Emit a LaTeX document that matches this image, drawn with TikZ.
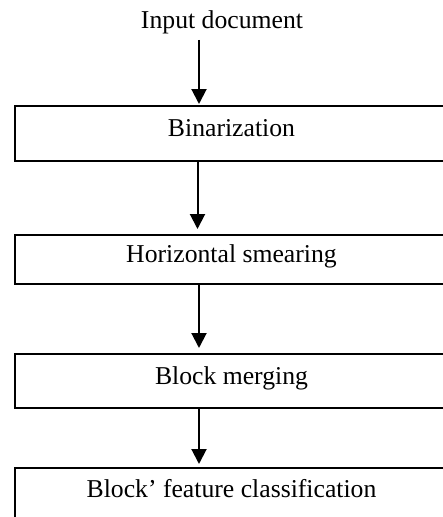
\documentclass[tikz,border=0pt]{standalone}
\usepackage{fontspec}
\setmainfont{Liberation Serif}
\usetikzlibrary{arrows.meta}
\begin{document}
\begin{tikzpicture}[x=1pt,y=-1pt,
  txt/.style={font=\fontsize{25.7}{30}\selectfont},
  stage/.style={txt,draw,line width=2pt,minimum width=433pt,inner sep=0pt,
    text height=0.662em,text depth=0pt},
  flow/.style={line width=2pt,-{Triangle[width=15pt,length=15pt]}}]
  % page frame; the stage boxes run past its right and lower edges
  \useasboundingbox (0,0) rectangle (443,517);
  \clip (0,0) rectangle (443,517);

  \node[txt,inner sep=0pt,anchor=base] (in) at (222,28.3) {Input document};
  \node[stage,minimum height=55pt]   (b1) at (231.5,133.5)  {Binarization};
  \node[stage,minimum height=48.5pt] (b2) at (231.5,259.25) {Horizontal smearing};
  \node[stage,minimum height=54pt]   (b3) at (231.5,381)    {Block merging};
  \node[stage,minimum height=53pt]   (b4) at (231.5,494.5)  {Block’ feature classification};

  % vertical guides for the connectors
  \coordinate (ax)  at (199,0);
  \coordinate (ax2) at (197.5,0);

  \draw[flow,shorten <=6pt,shorten >=1pt] (in.south -| ax) -- (b1.north -| ax);
  \draw[flow,shorten >=5pt] (b1.south -| ax2) -- (b2.north -| ax2);
  \draw[flow,shorten >=5pt] (b2.south -| ax) -- (b3.north -| ax);
  \draw[flow,shorten >=3pt] (b3.south -| ax) -- (b4.north -| ax);
\end{tikzpicture}
\end{document}
